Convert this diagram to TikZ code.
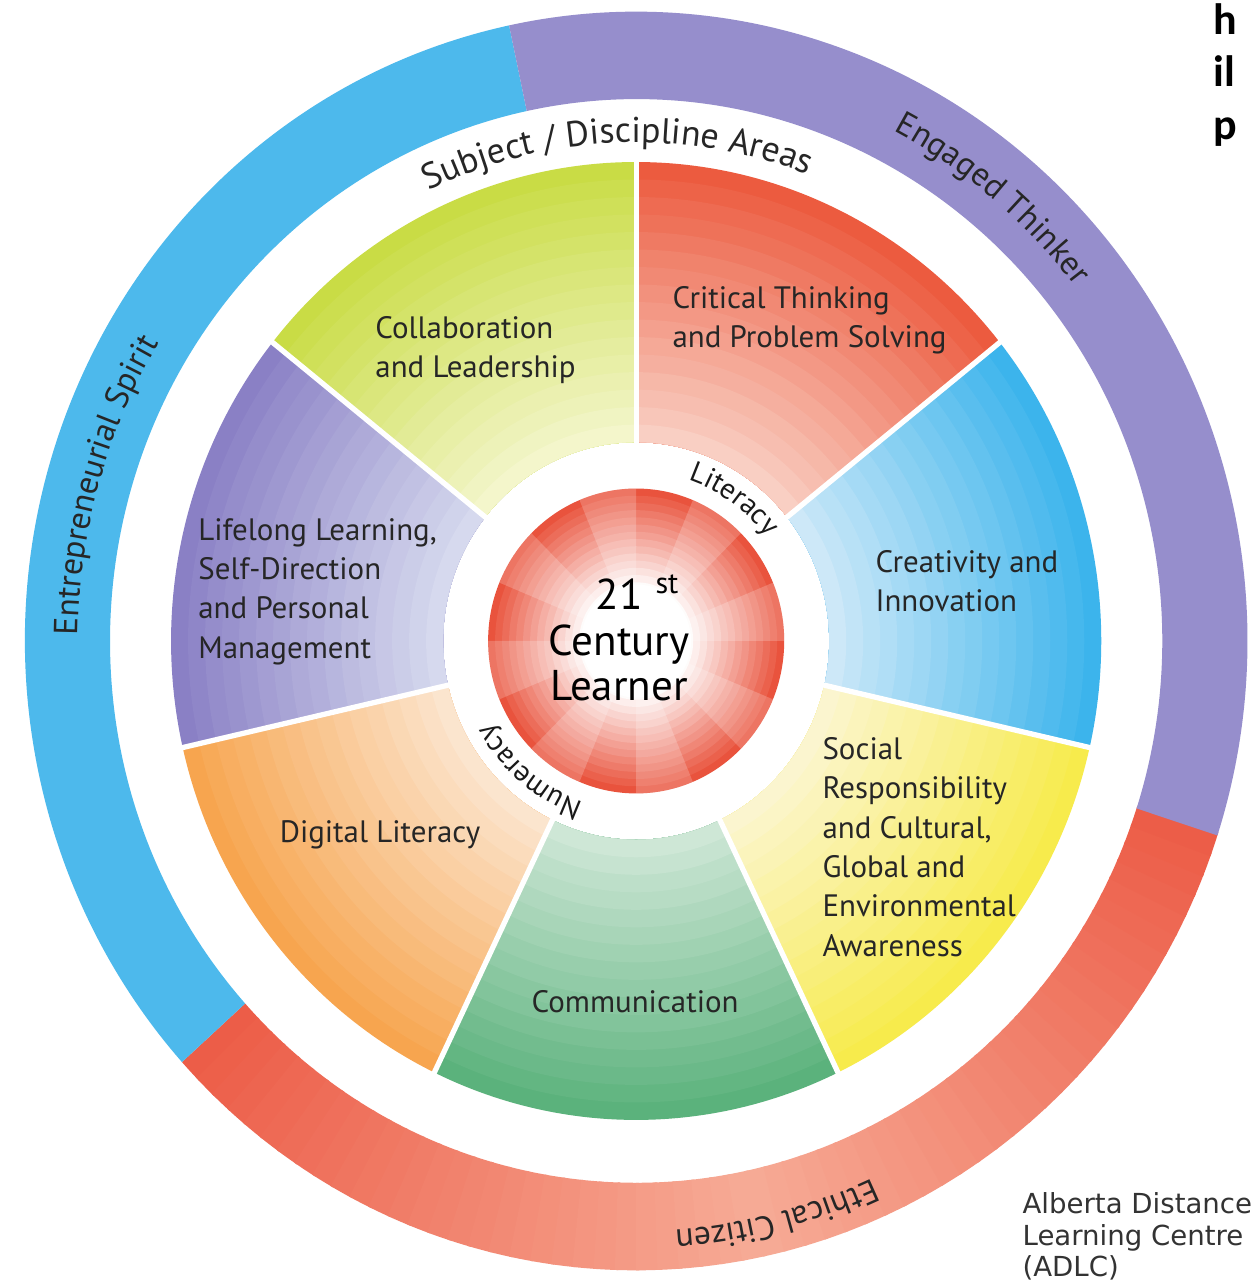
\documentclass[tikz,border=0pt]{standalone}
\usepackage{fontspec}
\setmainfont{PT Sans}
\newfontfamily\adlcfont{DejaVu Sans}
\newfontfamily\notefont{Carlito}
\usepackage{xcolor}
\usepackage{tikz}
\usetikzlibrary{decorations.text}

\definecolor{critC}{HTML}{EC5B3F}\definecolor{critP}{HTML}{FBE3DA}
\definecolor{collC}{HTML}{C9DC45}\definecolor{collP}{HTML}{FBFAE3}
\definecolor{lifeC}{HTML}{8A80C5}\definecolor{lifeP}{HTML}{E3E9F5}
\definecolor{digiC}{HTML}{F7A54F}\definecolor{digiP}{HTML}{FCF0E4}
\definecolor{commC}{HTML}{5BB27C}\definecolor{commP}{HTML}{E2F0E6}
\definecolor{soclC}{HTML}{F7EB4C}\definecolor{soclP}{HTML}{FCF7E6}
\definecolor{creaC}{HTML}{3CB4EC}\definecolor{creaP}{HTML}{E6F1FA}
\definecolor{ringBlue}{HTML}{4DB9EC}
\definecolor{ringPurple}{HTML}{968ECC}
\definecolor{ringRed}{HTML}{EC5B46}
\definecolor{ringPale}{HTML}{FBCDB8}
\definecolor{hubC}{HTML}{E9533D}

\newcommand\ringfont{\fontsize{19}{19}\selectfont\color{black!85}}
\newcommand\areafont{\fontsize{20.4}{20.4}\selectfont\color{black!85}}
\newcommand\arcfont{\fontsize{16.5}{16.5}\selectfont\color{black!90}}

\begin{document}
\begin{tikzpicture}[
    x=0.02cm, y=0.0206cm,
    skill/.style = {inner sep=0pt, align=left, text=black!85,
                    font=\fontsize{17.6}{22.4}\selectfont},
    divider/.style = {white, line width=3pt},
    arctext/.style = {decorate, decoration={text along path,
                      text align=center, text={#1}}}
  ]
  \fill[white] (-636,-623.3) rectangle (619,622.3);
  \useasboundingbox (-636,-623.3) rectangle (619,622.3);

  % outer ring
  \foreach \a in {222,224,...,340}{
    \pgfmathtruncatemacro\pct{30+70*abs(\a+1-282)/60}
    \fill[ringRed!\pct!ringPale] (\a:526) -- (\a:611)
      arc[start angle=\a, end angle=\a+2.3, radius=611] -- ({\a+2.3}:526)
      arc[start angle=\a+2.3, end angle=\a, radius=526] -- cycle;
  }
  \fill[ringBlue] (102:526) -- (102:611) arc[start angle=102, end angle=222, radius=611]
    -- (222:526) arc[start angle=222, end angle=102, radius=526] -- cycle;
  \fill[ringPurple] (-18:526) -- (-18:611) arc[start angle=-18, end angle=102, radius=611]
    -- (102:526) arc[start angle=102, end angle=-18, radius=526] -- cycle;

  % skill sectors
  \foreach \s/\oc/\ic in {38.571/critC/critP, 90/collC/collP, 141.429/lifeC/lifeP,
      192.857/digiC/digiP, 244.286/commC/commP, 295.714/soclC/soclP, 347.143/creaC/creaP}{
    \foreach \k in {0,...,15}{
      \pgfmathsetmacro\rr{465-\k*17}
      \pgfmathtruncatemacro\pct{100-5.6*\k}
      \fill[\oc!\pct!\ic] (\s:193) -- (\s:\rr)
        arc[start angle=\s, end angle=\s+51.43, radius=\rr] -- ({\s+51.43}:193)
        arc[start angle=\s+51.43, end angle=\s, radius=193] -- cycle;
    }
  }
  \foreach \a in {38.571, 90, 141.429, 192.857, 244.286, 295.714, 347.143}
    \draw[divider] (\a:185) -- (\a:472);

  % hub
  \foreach \k in {0,...,13}{
    \pgfmathsetmacro\rr{148-\k*7}
    \pgfmathtruncatemacro\pct{100-7.5*\k}
    \fill[hubC!\pct!white] (0,0) circle[radius=\rr];
  }
  \fill[white] (0,0) circle[radius=55];
  \foreach \a in {0,45,...,315}
    \fill[white, opacity=.2] (0,0) -- (\a:148)
      arc[start angle=\a, end angle=\a+22.5, radius=148] -- cycle;

  \node[skill, anchor=north west] (collab) at (-261,315.5) {Collaboration\\and Leadership};
  \node[skill, anchor=north west] (critical) at (36,344.7) {Critical Thinking\\and Problem Solving};
  \node[skill, anchor=north west] (creative) at (239,88.3) {Creativity and\\Innovation};
  \node[skill, anchor=north west] (social) at (186,-93.2)
    {Social\\Responsibility\\and Cultural,\\Global and\\Environmental\\Awareness};
  \node[skill, anchor=north west] (lifelong) at (-438,119.4)
    {Lifelong Learning,\\Self-Direction\\and Personal\\Management};
  \node[skill] (digital) at (-256,-188.3) {Digital Literacy};
  \node[skill] (commun) at (-1,-350.5) {Communication};
  \node[inner sep=0pt, align=center, font=\fontsize{24.5}{26}\selectfont] (learner)
    at (-17,2.9) {21\rlap{\hspace{0.3em}\textsuperscript{st}}\\Century\\Learner};

  \path[arctext={|\areafont|Subject / Discipline Areas}]
    (132:484) arc[start angle=132, end angle=52.6, radius=484];
  \path[arctext={|\ringfont|Engaged Thinker}]
    (80:558) arc[start angle=80, end angle=21, radius=558];
  \path[arctext={|\ringfont|Entrepreneurial Spirit}]
    (200:558) arc[start angle=200, end angle=128, radius=558];
  \path[arctext={|\ringfont|Ethical Citizen}]
    (-40:573) arc[start angle=-40, end angle=-112, radius=573];
  \path[arctext={|\arcfont|Literacy}]
    (95:165) arc[start angle=95, end angle=15, radius=165];
  \path[arctext={|\arcfont|Numeracy}]
    (-85:165) arc[start angle=-85, end angle=-174, radius=165];

  \node[inner sep=0pt, anchor=north west, align=left, text=black!80,
        font=\adlcfont\fontsize{15.7}{18}\selectfont] (adlc) at (386,-535)
    {Alberta Distance\\Learning Centre\\(ADLC)};
  \node[inner sep=0pt, anchor=north west, align=left,
        font=\notefont\bfseries\fontsize{25}{30}\selectfont] (note) at (577,619.4)
    {h\\il\\p};
\end{tikzpicture}
\end{document}
